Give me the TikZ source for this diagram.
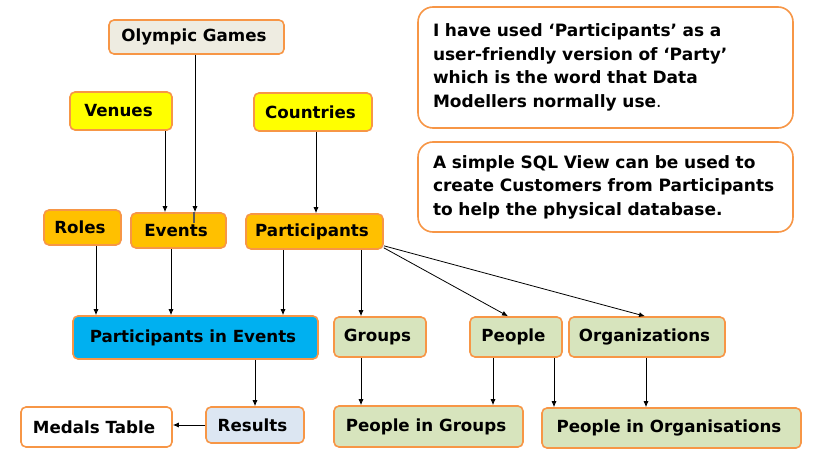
\documentclass[tikz,border=0pt]{standalone}
\usepackage{fontspec}
\setmainfont{DejaVu Sans}
\usetikzlibrary{arrows.meta}
\definecolor{bord}{HTML}{F79646}
\definecolor{beige}{HTML}{EEECE1}
\definecolor{yel}{HTML}{FFFF00}
\definecolor{gold}{HTML}{FFC000}
\definecolor{cyanb}{HTML}{00B0F0}
\definecolor{grn}{HTML}{D7E4BD}
\definecolor{lblue}{HTML}{DCE6F2}
\tikzset{
  ebox/.style args={#1/#2}{draw=bord, line width=1.6pt, rounded corners=5pt,
    minimum width=#1pt, minimum height=#2pt, inner sep=0pt,
    font=\fontsize{16.7}{18}\selectfont\bfseries, execute at end node=\hspace*{5pt}},
  note/.style args={#1/#2}{draw=bord, line width=1.6pt, rounded corners=15pt,
    minimum width=#1pt, minimum height=#2pt, inner sep=0pt, fill=white,
    font=\fontsize{17}{23.5}\selectfont\bfseries},
  arr/.style={draw=black, line width=0.8pt, -{Latex[length=6pt,width=5pt]}},
}
\begin{document}
\begin{tikzpicture}[x=1pt,y=-1pt]
\useasboundingbox[fill=white] (0,0) rectangle (819,462);
\node[ebox=175/34, fill=beige] (og) at (196.5,37) {Olympic Games};
\node[ebox=102/38, fill=yel] (ven) at (121,111) {Venues};
\node[ebox=118/38, fill=yel] (cty) at (313,112) {Countries};
\node[ebox=77/35, fill=gold] (rol) at (82.5,227.5) {Roles};
\node[ebox=95/35, fill=gold] (evt) at (178.5,230.5) {Events};
\node[ebox=137/35, fill=gold] (par) at (314.5,231.5) {Participants};
\node[ebox=245/43, fill=cyanb] (pie) at (195.5,337.5) {Participants in Events};
\node[ebox=92/40, fill=grn] (grp) at (380,337) {Groups};
\node[ebox=92/40, fill=grn] (ppl) at (516,337) {People};
\node[ebox=156/40, fill=grn] (org) at (647,337) {Organizations};
\node[ebox=151/40, fill=white] (med) at (96.5,427) {Medals Table};
\node[ebox=98/36, fill=lblue] (res) at (255,425) {Results};
\node[ebox=189/41, fill=grn] (pig) at (428.5,426.5) {People in Groups};
\node[ebox=259/40, fill=grn] (pio) at (671.5,428) {People in Organisations};
\node[note=375/121, text width=345pt, align=left] (n1) at (605.5,67.5)
  {I have used ‘Participants’ as a\\ user-friendly version of ‘Party’\\ which is the word that Data\\ Modellers normally use{\mdseries .}};
\node[note=375/90, text width=345pt, align=left] (n2) at (605.5,187)
  {A simple SQL View can be used to\\ create Customers from Participants\\ to help the physical database.};
% connectors
\draw[arr] ([xshift=-1.5pt]og.south) -- ([xshift=-1.5pt]og.south |- evt.north);
\draw[arr] ([xshift=44pt]ven.south) -- ([xshift=44pt]ven.south |- evt.north);
\draw[arr] ([xshift=3pt]cty.south) -- ([xshift=3pt]cty.south |- par.north);
\draw[gray!70!black, line width=1.5pt] ([xshift=-2.5pt]og.south |- evt.north) coordinate (stubA) -- ([yshift=-11pt]stubA);
\draw[arr] ([xshift=13.5pt]rol.south) -- ([xshift=13.5pt]rol.south |- pie.north);
\draw[arr] ([xshift=-7.5pt]evt.south) -- ([xshift=-7.5pt]evt.south |- pie.north);
\draw[arr] ([xshift=-31.5pt]par.south) -- ([xshift=-31.5pt]par.south |- pie.north);
\draw[arr] ([xshift=46.5pt]par.south) -- ([xshift=46.5pt]par.south |- grp.north);
\draw[arr] ([yshift=2pt]par.south east) -- ([xshift=-8pt]ppl.north);
\draw[arr] ([yshift=4pt]par.south east) -- ([xshift=-2pt]org.north);
\draw[arr] ([xshift=59.5pt]pie.south) -- ([xshift=59.5pt]pie.south |- res.north);
\draw[arr] (res.west) -- (res.west -| med.east);
\draw[arr] ([xshift=-19pt]grp.south) -- ([xshift=-19pt]grp.south |- pig.north);
\draw[arr] ([xshift=-23pt]ppl.south) -- ([xshift=-23pt]ppl.south |- pig.north);
\draw[arr] ([xshift=38pt]ppl.south) -- ([xshift=38pt]ppl.south |- pio.north);
\draw[arr] ([xshift=-1pt]org.south) -- ([xshift=-1pt]org.south |- pio.north);
\end{tikzpicture}
\end{document}
